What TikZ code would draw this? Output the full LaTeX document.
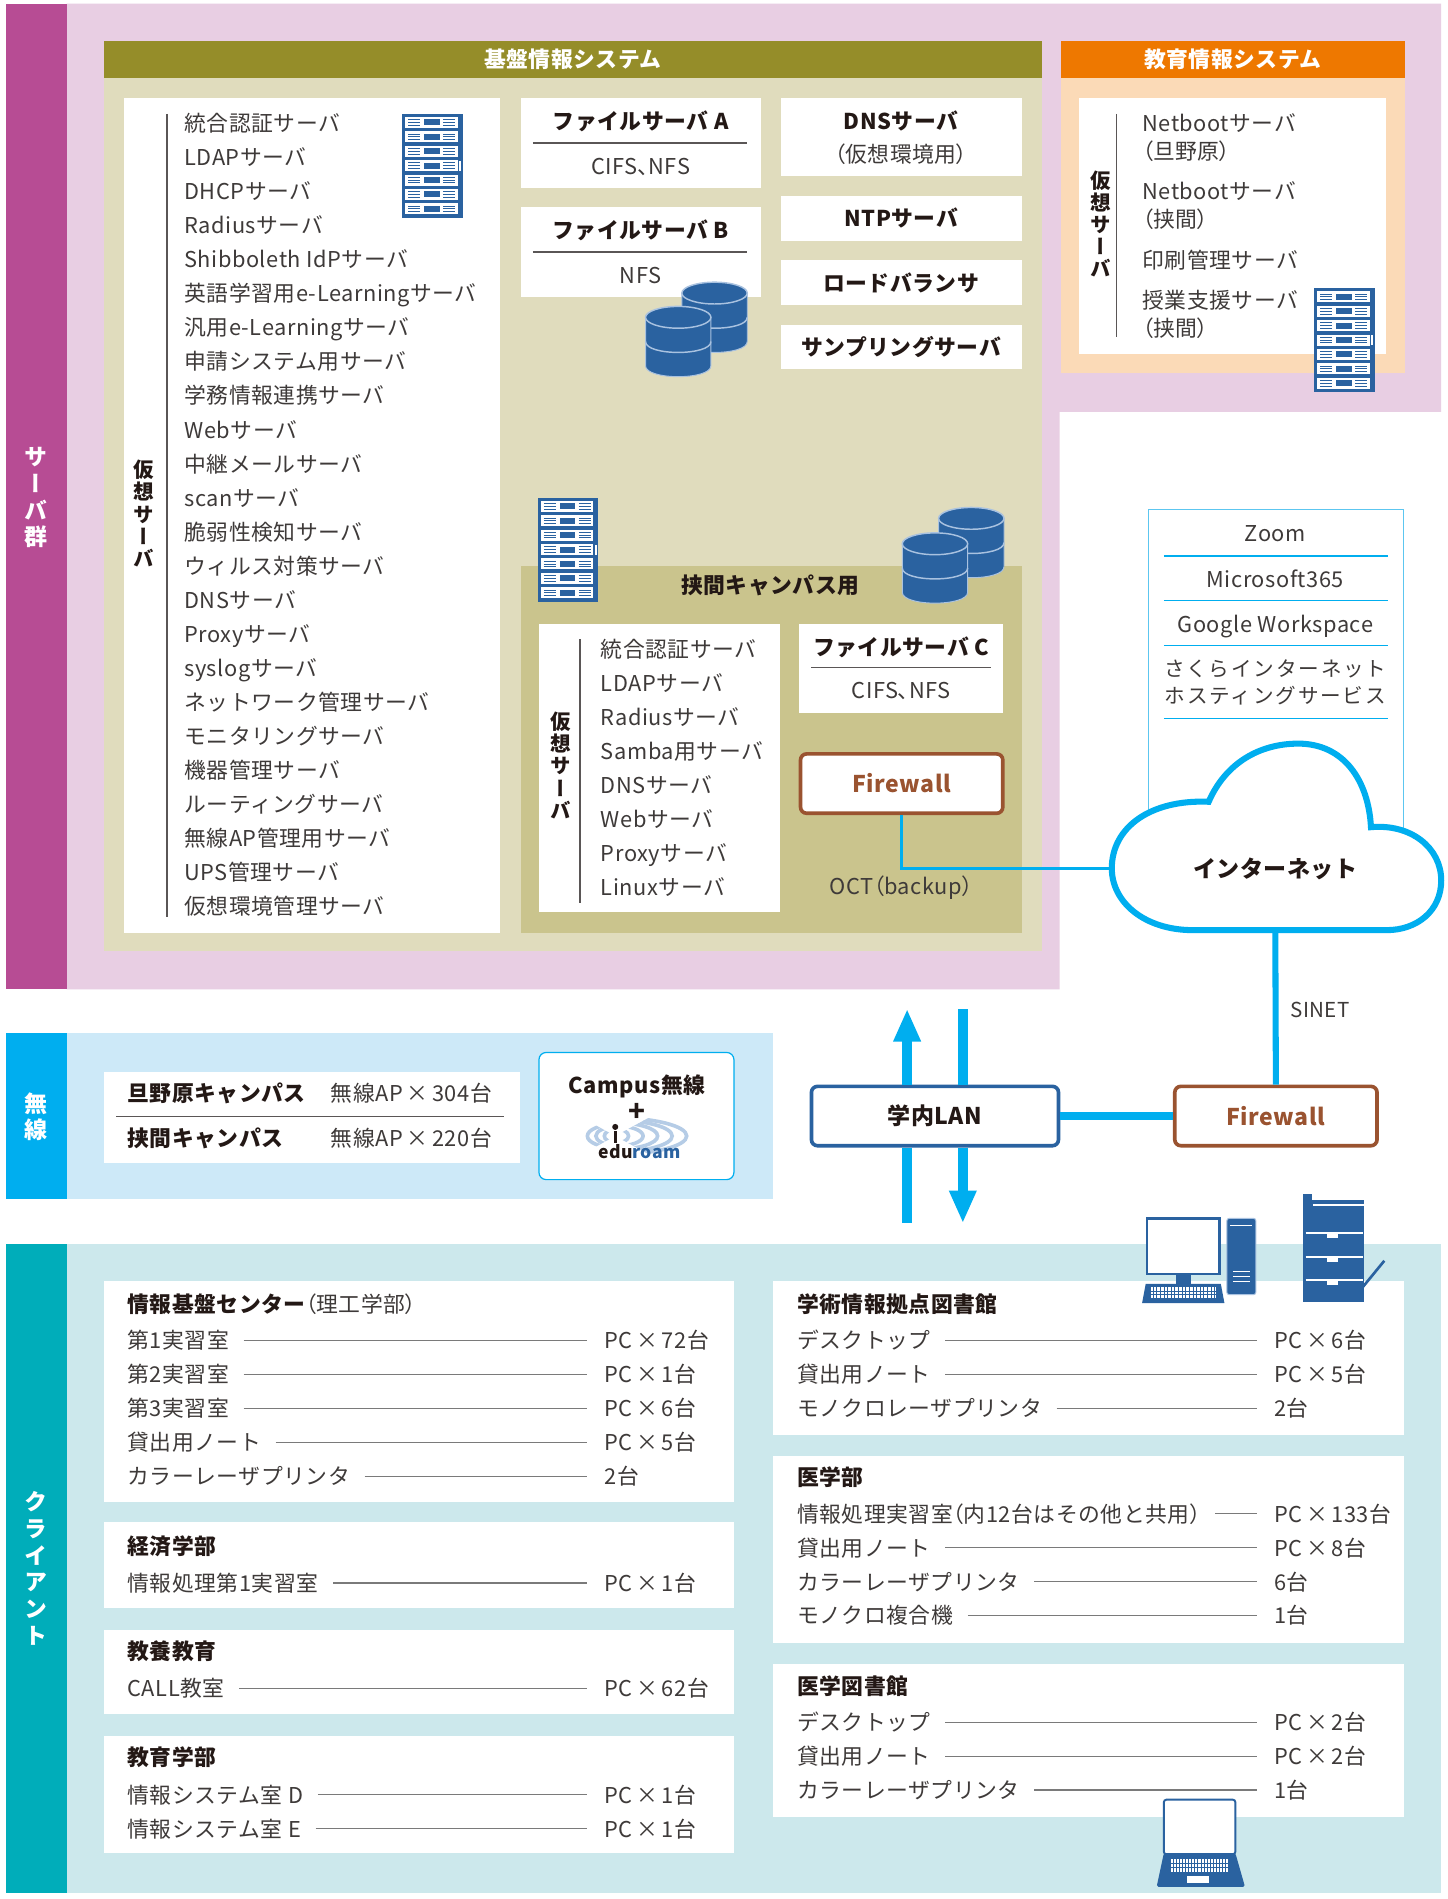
\documentclass[tikz,border=0pt]{standalone}
\usepackage{fontspec}
\setmainfont{Noto Sans CJK JP}[LetterSpace=2.5]
\newfontfamily\vjp{Noto Sans CJK JP}[RawFeature=+vert]
\usetikzlibrary{arrows.meta,calc}

% proportional (tight) CJK punctuation
\newcommand\lpar{{\addfontfeature{RawFeature=+palt}（}}
\newcommand\rpar{{\addfontfeature{RawFeature=+palt}）}}
\newcommand\tcomma{{\addfontfeature{RawFeature=+palt}、}}

\definecolor{srvbar}{HTML}{B74C94}
\definecolor{srvbg}{HTML}{E8CEE3}
\definecolor{olivehd}{HTML}{958D29}
\definecolor{beige}{HTML}{E0DCBD}
\definecolor{beigedk}{HTML}{CAC48D}
\definecolor{orangehd}{HTML}{EE7800}
\definecolor{peach}{HTML}{FBDAB7}
\definecolor{cyanln}{HTML}{00AEEF}
\definecolor{cyanlt}{HTML}{5CC6F0}
\definecolor{wlbg}{HTML}{CDE9F8}
\definecolor{tealbar}{HTML}{00ADBA}
\definecolor{tealbg}{HTML}{CCE8EC}
\definecolor{iconblue}{HTML}{2A62A0}
\definecolor{cylrim}{HTML}{A9C2E0}
\definecolor{fwbrown}{HTML}{9A5330}
\definecolor{inkr}{HTML}{3E3A39}
\definecolor{inkb}{HTML}{231815}
\definecolor{leadgray}{HTML}{7A7A7A}
\definecolor{rulegray}{HTML}{5A5656}
\definecolor{edulight}{HTML}{B5CCE6}

\tikzset{
  item/.style={inner sep=0pt, text height=16.5pt, text depth=2.8pt, anchor=west,
    font=\fontsize{18}{22}\selectfont, text=inkr},
  itemc/.style={item, anchor=center},
  title/.style={item, font=\bfseries\fontsize{18}{22}\selectfont, text=inkb},
  titlec/.style={title, anchor=center},
  hdr/.style={titlec, text=white},
  vlabel/.style={inner sep=0pt, align=center, text=white,
    font=\vjp\bfseries\fontsize{19}{22}\selectfont},
  vsub/.style={inner sep=0pt, align=center, text=inkb,
    font=\vjp\bfseries\fontsize{17}{18.3}\selectfont},
  leader/.style={draw=leadgray, line width=1},
  vrule/.style={draw=rulegray, line width=1.3},
  hrule/.style={draw=rulegray, line width=1.2},
  svcrule/.style={draw=cyanln, line width=1},
  fwbox/.style={draw=fwbrown, line width=3, rounded corners=5, fill=white, text=fwbrown,
    font=\bfseries\fontsize{19}{22}\selectfont, minimum width=167pt, minimum height=49pt,
    inner sep=0pt},
  lanbox/.style={fwbox, draw=iconblue, text=inkb, minimum width=204pt},
  wire/.style={draw=cyanln},
  bigarrow/.style={draw=cyanln, line width=8, -{Triangle[width=21pt,length=27pt]}},
  serverrack/.pic={
    \fill[iconblue] (0,0) rectangle (50,86);
    \foreach \k in {0,...,6}{
      \fill[white] (2.5,2.5+\k*11.9) rectangle (46,11.6+\k*11.9);
      \fill[iconblue] (18,4.6+\k*11.9) rectangle (31,9.5+\k*11.9);
      \foreach \s in {0,1,2}{
        \draw[iconblue,line width=0.8] (5,4.8+\s*2.3+\k*11.9) -- (15,4.8+\s*2.3+\k*11.9);
        \draw[iconblue,line width=0.8] (34,4.8+\s*2.3+\k*11.9) -- (44,4.8+\s*2.3+\k*11.9);
      }
    }
    \fill[white] (47.3,39) rectangle (48.7,47);
  }
}

% one database cylinder, top-left corner at (#1,#2)
\newcommand\dbcyl[2]{%
  \begin{scope}[shift={(#1,#2)}]
    \fill[iconblue, draw=cylrim, line width=0.8]
      (0,9) -- (0,49) .. controls (0,61) and (54,61) .. (54,49) -- (54,9) -- cycle;
    \draw[cylrim, line width=1.2] (0,29) .. controls (0,41) and (54,41) .. (54,29);
    \filldraw[fill=iconblue, draw=cylrim, line width=1.2] (27,9) ellipse [x radius=27, y radius=9];
  \end{scope}}

% one client row: name, label x, value x, y, label, value
\newcommand\pcrow[6]{%
  \node[item] (#1a) at (#2,#4) {#5};
  \node[item] (#1b) at (#3,#4) {#6};
  \draw[leader] ([xshift=12pt]#1a.east) -- ([xshift=-14pt]#1b.west);}

\begin{document}
\begin{tikzpicture}[x=1pt,y=-1pt]
\useasboundingbox (0,0) rectangle (1195,1568);
\fill[white] (0,0) rectangle (1195,1568);

% ---------------- server group ----------------
\fill[srvbg] (55,3) -- (1190,3) -- (1190,340) -- (875,340) -- (875,817) -- (55,817) -- cycle;
\fill[srvbar] (5,3) rectangle (55,817);
\node[vlabel] (lblsrv) at (30,411) {サ\\ー\\バ\\群};

% core information system
\fill[olivehd] (86,34) rectangle (860,64);
\node[hdr] (hdrcore) at (473,49) {基盤情報システム};
\fill[beige] (86,64) rectangle (860,785);

% virtual server list
\fill[white] (102,81) rectangle (413,770);
\draw[vrule] (138,94) -- (138,757);
\node[vsub] (vcore) at (119,424) {仮\\想\\サ\\ー\\バ};
\foreach \t [count=\i from 0] in {統合認証サーバ,LDAPサーバ,DHCPサーバ,Radiusサーバ,
  Shibboleth IdPサーバ,英語学習用e-Learningサーバ,汎用e-Learningサーバ,申請システム用サーバ,
  学務情報連携サーバ,Webサーバ,中継メールサーバ,scanサーバ,脆弱性検知サーバ,ウィルス対策サーバ,
  DNSサーバ,Proxyサーバ,syslogサーバ,ネットワーク管理サーバ,モニタリングサーバ,機器管理サーバ,
  ルーティングサーバ,無線AP管理用サーバ,UPS管理サーバ,仮想環境管理サーバ}{
  \node[item] (vs\i) at (152,102+\i*28.09) {\t};
}
\pic at (332,94) {serverrack};

% file servers
\fill[white] (430,81) rectangle (628,155);
\node[titlec] (fsa) at (529,100) {ファイルサーバ A};
\draw[hrule] (440,118) -- (617,118);
\node[itemc] (fsap) at (529,137) {CIFS\tcomma NFS};
\fill[white] (430,171) rectangle (628,245);
\node[titlec] (fsb) at (529,190) {ファイルサーバ B};
\draw[hrule] (440,208) -- (617,208);
\node[itemc] (fsbp) at (529,227) {NFS};
\dbcyl{563}{233}
\dbcyl{533}{253}

% stand-alone servers
\fill[white] (645,81) rectangle (844,145);
\node[titlec] (dns) at (744,100) {DNSサーバ};
\node[itemc] (dnsv) at (744,127) {\lpar 仮想環境用\rpar};
\fill[white] (645,162) rectangle (844,199);
\node[titlec] (ntp) at (744,180) {NTPサーバ};
\fill[white] (645,215) rectangle (844,252);
\node[titlec] (lb) at (744,234) {ロードバランサ};
\fill[white] (645,268) rectangle (844,305);
\node[titlec] (smp) at (744,287) {サンプリングサーバ};

% Hasama campus
\fill[beigedk] (430,467) rectangle (844,770);
\pic at (444,411) {serverrack};
\dbcyl{775}{419}
\dbcyl{745}{440}
\node[titlec] (hsm) at (636,483) {挟間キャンパス用};
\fill[white] (445,515) rectangle (644,753);
\draw[vrule] (479,528) -- (479,746);
\node[vsub] (vhsm) at (463,632) {仮\\想\\サ\\ー\\バ};
\foreach \t [count=\i from 0] in {統合認証サーバ,LDAPサーバ,Radiusサーバ,Samba用サーバ,
  DNSサーバ,Webサーバ,Proxyサーバ,Linuxサーバ}{
  \node[item] (hs\i) at (496,536+\i*28.1) {\t};
}
\fill[white] (660,515) rectangle (828,589);
\node[titlec] (fsc) at (744,534) {ファイルサーバ C};
\draw[hrule] (670,551) -- (818,551);
\node[itemc] (fscp) at (744,570) {CIFS\tcomma NFS};
\node[fwbox] (fwin) at (744.5,647) {Firewall};
\node[itemc] (oct) at (744,732) {OCT\lpar backup\rpar};

% educational information system
\fill[orangehd] (876,34) rectangle (1160,64);
\node[hdr] (hdredu) at (1018,49) {教育情報システム};
\fill[peach] (876,64) rectangle (1160,308);
\fill[white] (891,81) rectangle (1144,292);
\draw[vrule] (922,94) -- (922,278);
\node[vsub] (vedu) at (909,185) {仮\\想\\サ\\ー\\バ};
\node[item] (ed1) at (943,102) {Netbootサーバ};
\node[item] (ed2) at (943,125) {\lpar 旦野原\rpar};
\node[item] (ed3) at (943,158) {Netbootサーバ};
\node[item] (ed4) at (943,181) {\lpar 挟間\rpar};
\node[item] (ed5) at (943,215) {印刷管理サーバ};
\node[item] (ed6) at (943,248) {授業支援サーバ};
\node[item] (ed7) at (943,271) {\lpar 挟間\rpar};
\pic at (1085,238) {serverrack};

% ---------------- internet services ----------------
\draw[cyanlt, line width=1] (948,700) -- (948,421) -- (1159,421) -- (1159,700);
\node[itemc] (svz) at (1053,440) {Zoom};
\draw[svcrule] (961,459) -- (1146,459);
\node[itemc] (svm) at (1053,478) {Microsoft365};
\draw[svcrule] (961,496) -- (1146,496);
\node[itemc] (svg) at (1053,515) {Google Workspace};
\draw[svcrule] (961,533) -- (1146,533);
\node[itemc, font=\fontsize{17}{22}\selectfont\addfontfeature{LetterSpace=9}] (svs1) at (1053,552) {さくらインターネット};
\node[itemc, font=\fontsize{17}{22}\selectfont\addfontfeature{LetterSpace=9}] (svs2) at (1053,574) {ホスティングサービス};
\draw[svcrule] (961,593) -- (1146,593);

% ---------------- wireless ----------------
\fill[wlbg] (55,853) rectangle (638,990);
\fill[cyanln] (5,853) rectangle (55,990);
\node[vlabel] (lblwl) at (30,922) {無\\線};
\fill[white] (86,885) rectangle (429,960);
\node[title] (wl1) at (105,903) {旦野原キャンパス};
\node[item] (wl1n) at (273,903) {無線AP\,×\,304台};
\draw[hrule] (96,922) -- (416,922);
\node[title] (wl2) at (105,940) {挟間キャンパス};
\node[item] (wl2n) at (273,940) {無線AP\,×\,220台};
\filldraw[fill=white, draw=cyanln, line width=1, rounded corners=6] (445,869) rectangle (606,974);
\node[titlec] (cmp) at (526,896) {Campus無線};
\node[titlec, font=\bfseries\fontsize{23}{24}\selectfont] (plus) at (526,919) {+};
% eduroam mark: signal arcs around the antenna
\begin{scope}
  \clip (508,938) -- (585,896) -- (585,980) -- cycle;
  \foreach \r/\h in {11/6,23/8.5,35/11,47/13,59/15}{
    \draw[edulight, line width=3] (508,938) ellipse[x radius=\r, y radius=\h];
  }
\end{scope}
\begin{scope}
  \clip (508,938) -- (470,917) -- (470,959) -- cycle;
  \foreach \r/\h in {9/5.5,16/7.5,23/9.5}{
    \draw[edulight, line width=3] (508,938) ellipse[x radius=\r, y radius=\h];
  }
\end{scope}
\draw[inkb, line width=2.2] (508,934) -- (508,944);
\fill[inkb] (508,930.5) circle[radius=2.5];
\node[inner sep=0pt, font=\bfseries\fontsize{14.5}{16}\selectfont] (edu) at (528,951)
  {\textcolor{inkb}{edu}\textcolor{iconblue}{roam}};

% ---------------- network core ----------------
\node[lanbox] (lan) at (772,921.5) {学内LAN};
\node[fwbox] (fwout) at (1053.5,921.5) {Firewall};
\coordinate (upTip) at (749,833);
\coordinate (inTop) at (795,833);
\coordinate (outBot) at (749,1010);
\coordinate (downTip) at (795,1010);
\draw[bigarrow] ([xshift=-23pt]lan.north) -- (upTip);
\draw[wire, line width=8] ([xshift=23pt]lan.north) -- (inTop);
\draw[wire, line width=8] ([xshift=-23pt]lan.south) -- (outBot);
\draw[bigarrow] ([xshift=23pt]lan.south) -- (downTip);
\draw[wire, line width=7] (lan.east) -- (fwout.west);

% internet cloud
\coordinate (cloudL) at (918,717);
\coordinate (cloudB) at (1053,768);
\draw[wire, line width=3] (fwin.south) |- (cloudL);
\draw[wire, line width=5] (cloudB) -- (fwout.north);
\filldraw[fill=white, draw=cyanln, line width=5]
  (985,768) .. controls (945,768) and (918,745) .. (918,717)
  .. controls (918,683) and (950,660) .. (998,662)
  .. controls (1012,630) and (1040,614) .. (1072,614)
  .. controls (1110,614) and (1130,645) .. (1132,683)
  .. controls (1165,680) and (1190,700) .. (1190,727)
  .. controls (1190,752) and (1170,768) .. (1145,768) -- cycle;
\node[titlec, font=\bfseries\fontsize{19}{22}\selectfont] (inet) at (1053,718) {インターネット};
\node[itemc, font=\fontsize{17}{22}\selectfont] (sinet) at (1090,833) {SINET};

% ---------------- clients ----------------
\fill[tealbg] (55,1027) rectangle (1190,1563);
\fill[tealbar] (5,1027) rectangle (55,1563);
\node[vlabel] (lblcl) at (30,1295) {ク\\ラ\\イ\\ア\\ン\\ト};

% left column
\fill[white] (86,1058) rectangle (606,1240);
\node[title] (c1) at (105,1077) {情報基盤センター{\mdseries\color{inkr}\lpar 理工学部\rpar}};
\pcrow{ra}{105}{499}{1107}{第1実習室}{PC\,×\,72台}
\pcrow{rb}{105}{499}{1135}{第2実習室}{PC\,×\,1台}
\pcrow{rc}{105}{499}{1163}{第3実習室}{PC\,×\,6台}
\pcrow{rd}{105}{499}{1191}{貸出用ノート}{PC\,×\,5台}
\pcrow{re}{105}{499}{1219}{カラーレーザプリンタ}{2台}

\fill[white] (86,1257) rectangle (606,1328);
\node[title] (c2) at (105,1277) {経済学部};
\pcrow{rf}{105}{499}{1307}{情報処理第1実習室}{PC\,×\,1台}

\fill[white] (86,1346) rectangle (606,1415);
\node[title] (c3) at (105,1363) {教養教育};
\pcrow{rg}{105}{499}{1394}{CALL教室}{PC\,×\,62台}

\fill[white] (86,1433) rectangle (606,1530);
\node[title] (c4) at (105,1451) {教育学部};
\pcrow{rh}{105}{499}{1482}{情報システム室 D}{PC\,×\,1台}
\pcrow{ri}{105}{499}{1510}{情報システム室 E}{PC\,×\,1台}

% right column
\fill[white] (638,1058) rectangle (1159,1185);
\node[title] (c5) at (658,1077) {学術情報拠点図書館};
\pcrow{rj}{658}{1052}{1107}{デスクトップ}{PC\,×\,6台}
\pcrow{rk}{658}{1052}{1135}{貸出用ノート}{PC\,×\,5台}
\pcrow{rl}{658}{1052}{1163}{モノクロレーザプリンタ}{2台}

\fill[white] (638,1202) rectangle (1159,1357);
\node[title] (c6) at (658,1220) {医学部};
\pcrow{rm}{658}{1052}{1250}{情報処理実習室\lpar 内12台はその他と共用\rpar}{PC\,×\,133台}
\pcrow{rn}{658}{1052}{1278}{貸出用ノート}{PC\,×\,8台}
\pcrow{ro}{658}{1052}{1306}{カラーレーザプリンタ}{6台}
\pcrow{rp}{658}{1052}{1334}{モノクロ複合機}{1台}

\fill[white] (638,1374) rectangle (1159,1500);
\node[title] (c7) at (658,1392) {医学図書館};
\pcrow{rq}{658}{1052}{1422}{デスクトップ}{PC\,×\,2台}
\pcrow{rr}{658}{1052}{1450}{貸出用ノート}{PC\,×\,2台}
\pcrow{rs}{658}{1052}{1478}{カラーレーザプリンタ}{1台}

% desktop computer
\filldraw[fill=white, draw=iconblue, line width=2] (947,1006) rectangle (1007,1052);
\fill[iconblue] (971,1052) rectangle (983,1061);
\fill[iconblue] (946,1060) -- (1008,1060) -- (1011,1076) -- (943,1076) -- cycle;
\fill[white] (950,1063) rectangle (1004,1072);
\foreach \gx in {952,955,...,1003}{\draw[iconblue, line width=0.6] (\gx,1063) -- (\gx,1072);}
\foreach \gy in {1066,1069}{\draw[iconblue, line width=0.6] (950,\gy) -- (1004,\gy);}
\filldraw[fill=iconblue, draw=cylrim, line width=0.8, rounded corners=2] (1013,1006) rectangle (1037,1069);
\draw[white, line width=1.2] (1016,1012) -- (1034,1012);
\foreach \gy in {1050,1054,1058}{\draw[white, line width=1.2] (1018,\gy) -- (1032,\gy);}

% printer
\fill[iconblue] (1076,986) rectangle (1083,992);
\fill[iconblue] (1076,991) rectangle (1126,1075);
\draw[white, line width=1.5] (1084,995) -- (1126,995);
\foreach \gy in {1018,1038,1057}{
  \draw[white, line width=1.2] (1078,\gy) -- (1125,\gy);
  \fill[white] (1096,\gy) rectangle (1105,\gy+4);
}
\draw[iconblue, line width=2.2] (1125,1063) -- (1143,1041);

% laptop
\filldraw[fill=white, draw=iconblue, line width=1.6, rounded corners=2] (961,1486) rectangle (1020,1531);
\fill[iconblue, rounded corners=1.5] (961,1530) -- (1020,1530) -- (1028,1558) -- (955,1558) -- cycle;
\fill[white] (967,1535) rectangle (1014,1546);
\foreach \gx in {969,971.5,...,1013}{\draw[iconblue, line width=0.5] (\gx,1535) -- (\gx,1546);}
\foreach \gy in {1538.5,1542}{\draw[iconblue, line width=0.5] (967,\gy) -- (1014,\gy);}
\fill[white] (980,1549) rectangle (998,1555);

\end{tikzpicture}
\end{document}
